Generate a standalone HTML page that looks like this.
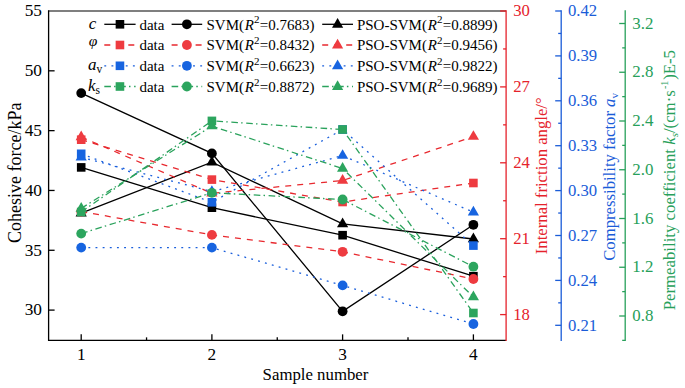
<!DOCTYPE html>
<html><head><meta charset="utf-8"><style>
html,body{margin:0;padding:0;background:#fff;width:685px;height:388px;overflow:hidden;}
svg{display:block;}
text{font-family:"Liberation Serif",serif;}
</style></head><body>
<svg width="685" height="388" viewBox="0 0 685 388">
<rect width="685" height="388" fill="#fff"/>
<polyline points="81.20,167.40 211.90,207.70 342.60,235.20 473.40,276.20" stroke="#000000" stroke-width="1.3" fill="none"/>
<rect x="76.90" y="163.10" width="8.6" height="8.6" fill="#000000"/>
<rect x="207.60" y="203.40" width="8.6" height="8.6" fill="#000000"/>
<rect x="338.30" y="230.90" width="8.6" height="8.6" fill="#000000"/>
<rect x="469.10" y="271.90" width="8.6" height="8.6" fill="#000000"/>
<polyline points="81.20,93.10 211.90,153.40 342.60,311.30 473.40,224.80" stroke="#000000" stroke-width="1.3" fill="none"/>
<circle cx="81.20" cy="93.10" r="4.9" fill="#000000"/>
<circle cx="211.90" cy="153.40" r="4.9" fill="#000000"/>
<circle cx="342.60" cy="311.30" r="4.9" fill="#000000"/>
<circle cx="473.40" cy="224.80" r="4.9" fill="#000000"/>
<polyline points="81.20,213.20 211.90,162.20 342.60,223.90 473.40,239.00" stroke="#000000" stroke-width="1.3" fill="none"/>
<polygon points="81.20,206.73 86.80,216.43 75.60,216.43" fill="#000000"/>
<polygon points="211.90,155.73 217.50,165.43 206.30,165.43" fill="#000000"/>
<polygon points="342.60,217.43 348.20,227.13 337.00,227.13" fill="#000000"/>
<polygon points="473.40,232.53 479.00,242.23 467.80,242.23" fill="#000000"/>
<polyline points="81.20,139.70 211.90,179.60 342.60,202.00 473.40,183.00" stroke="#E8292F" stroke-width="1.3" fill="none" stroke-dasharray="6 6"/>
<rect x="76.90" y="135.40" width="8.6" height="8.6" fill="#EE3B40"/>
<rect x="207.60" y="175.30" width="8.6" height="8.6" fill="#EE3B40"/>
<rect x="338.30" y="197.70" width="8.6" height="8.6" fill="#EE3B40"/>
<rect x="469.10" y="178.70" width="8.6" height="8.6" fill="#EE3B40"/>
<polyline points="81.20,211.50 211.90,234.90 342.60,251.80 473.40,279.00" stroke="#E8292F" stroke-width="1.3" fill="none" stroke-dasharray="6 6"/>
<circle cx="81.20" cy="211.50" r="4.9" fill="#EE3B40"/>
<circle cx="211.90" cy="234.90" r="4.9" fill="#EE3B40"/>
<circle cx="342.60" cy="251.80" r="4.9" fill="#EE3B40"/>
<circle cx="473.40" cy="279.00" r="4.9" fill="#EE3B40"/>
<polyline points="81.20,137.00 211.90,193.30 342.60,180.50 473.40,136.60" stroke="#E8292F" stroke-width="1.3" fill="none" stroke-dasharray="6 6"/>
<polygon points="81.20,130.53 86.80,140.23 75.60,140.23" fill="#EE3B40"/>
<polygon points="211.90,186.83 217.50,196.53 206.30,196.53" fill="#EE3B40"/>
<polygon points="342.60,174.03 348.20,183.73 337.00,183.73" fill="#EE3B40"/>
<polygon points="473.40,130.13 479.00,139.83 467.80,139.83" fill="#EE3B40"/>
<polyline points="81.20,153.80 211.90,202.30 342.60,129.50 473.40,245.60" stroke="#1A5FDC" stroke-width="1.3" fill="none" stroke-dasharray="1.9 5.25"/>
<rect x="76.90" y="149.50" width="8.6" height="8.6" fill="#1764E0"/>
<rect x="207.60" y="198.00" width="8.6" height="8.6" fill="#1764E0"/>
<rect x="338.30" y="125.20" width="8.6" height="8.6" fill="#1764E0"/>
<rect x="469.10" y="241.30" width="8.6" height="8.6" fill="#1764E0"/>
<polyline points="81.20,247.60 211.90,247.60 342.60,285.40 473.40,324.00" stroke="#1A5FDC" stroke-width="1.3" fill="none" stroke-dasharray="1.9 5.25"/>
<circle cx="81.20" cy="247.60" r="4.9" fill="#1764E0"/>
<circle cx="211.90" cy="247.60" r="4.9" fill="#1764E0"/>
<circle cx="342.60" cy="285.40" r="4.9" fill="#1764E0"/>
<circle cx="473.40" cy="324.00" r="4.9" fill="#1764E0"/>
<polyline points="81.20,157.20 211.90,191.60 342.60,155.60 473.40,212.20" stroke="#1A5FDC" stroke-width="1.3" fill="none" stroke-dasharray="1.9 5.25"/>
<polygon points="81.20,150.73 86.80,160.43 75.60,160.43" fill="#1764E0"/>
<polygon points="211.90,185.13 217.50,194.83 206.30,194.83" fill="#1764E0"/>
<polygon points="342.60,149.13 348.20,158.83 337.00,158.83" fill="#1764E0"/>
<polygon points="473.40,205.73 479.00,215.43 467.80,215.43" fill="#1764E0"/>
<polyline points="81.20,212.00 211.90,120.90 342.60,129.50 473.40,313.00" stroke="#2AA25C" stroke-width="1.3" fill="none" stroke-dasharray="6.6 3.2 1.5 3.6"/>
<rect x="76.90" y="207.70" width="8.6" height="8.6" fill="#2CA55E"/>
<rect x="207.60" y="116.60" width="8.6" height="8.6" fill="#2CA55E"/>
<rect x="338.30" y="125.20" width="8.6" height="8.6" fill="#2CA55E"/>
<rect x="469.10" y="308.70" width="8.6" height="8.6" fill="#2CA55E"/>
<polyline points="81.20,233.60 211.90,192.80 342.60,199.50 473.40,266.70" stroke="#2AA25C" stroke-width="1.3" fill="none" stroke-dasharray="6.6 3.2 1.5 3.6"/>
<circle cx="81.20" cy="233.60" r="4.9" fill="#2CA55E"/>
<circle cx="211.90" cy="192.80" r="4.9" fill="#2CA55E"/>
<circle cx="342.60" cy="199.50" r="4.9" fill="#2CA55E"/>
<circle cx="473.40" cy="266.70" r="4.9" fill="#2CA55E"/>
<polyline points="81.20,208.40 211.90,126.10 342.60,168.50 473.40,297.00" stroke="#2AA25C" stroke-width="1.3" fill="none" stroke-dasharray="6.6 3.2 1.5 3.6"/>
<polygon points="81.20,201.93 86.80,211.63 75.60,211.63" fill="#2CA55E"/>
<polygon points="211.90,119.63 217.50,129.33 206.30,129.33" fill="#2CA55E"/>
<polygon points="342.60,162.03 348.20,171.73 337.00,171.73" fill="#2CA55E"/>
<polygon points="473.40,290.53 479.00,300.23 467.80,300.23" fill="#2CA55E"/>
<path d="M48.6,11.0 H506.1" stroke="#555" stroke-width="1.3" fill="none"/>
<path d="M48.6,10.35 V340.35 H506.1" stroke="#000" stroke-width="1.3" fill="none"/>
<text x="42.0" y="16.30" font-size="17.3" text-anchor="end">55</text>
<line x1="48.6" y1="70.82" x2="54.6" y2="70.82" stroke="#000" stroke-width="1.3"/>
<text x="42.0" y="76.12" font-size="17.3" text-anchor="end">50</text>
<line x1="48.6" y1="130.64" x2="54.6" y2="130.64" stroke="#000" stroke-width="1.3"/>
<text x="42.0" y="135.94" font-size="17.3" text-anchor="end">45</text>
<line x1="48.6" y1="190.46" x2="54.6" y2="190.46" stroke="#000" stroke-width="1.3"/>
<text x="42.0" y="195.76" font-size="17.3" text-anchor="end">40</text>
<line x1="48.6" y1="250.28" x2="54.6" y2="250.28" stroke="#000" stroke-width="1.3"/>
<text x="42.0" y="255.58" font-size="17.3" text-anchor="end">35</text>
<line x1="48.6" y1="310.10" x2="54.6" y2="310.10" stroke="#000" stroke-width="1.3"/>
<text x="42.0" y="315.40" font-size="17.3" text-anchor="end">30</text>
<line x1="81.2" y1="340.35" x2="81.2" y2="334.35" stroke="#000" stroke-width="1.3"/>
<text x="81.20" y="360.1" font-size="17.3" text-anchor="middle">1</text>
<line x1="211.9" y1="340.35" x2="211.9" y2="334.35" stroke="#000" stroke-width="1.3"/>
<text x="211.90" y="360.1" font-size="17.3" text-anchor="middle">2</text>
<line x1="342.6" y1="340.35" x2="342.6" y2="334.35" stroke="#000" stroke-width="1.3"/>
<text x="342.60" y="360.1" font-size="17.3" text-anchor="middle">3</text>
<line x1="473.4" y1="340.35" x2="473.4" y2="334.35" stroke="#000" stroke-width="1.3"/>
<text x="473.40" y="360.1" font-size="17.3" text-anchor="middle">4</text>
<line x1="146.55" y1="340.35" x2="146.55" y2="337.35" stroke="#000" stroke-width="1.3"/>
<line x1="277.25" y1="340.35" x2="277.25" y2="337.35" stroke="#000" stroke-width="1.3"/>
<line x1="408.00" y1="340.35" x2="408.00" y2="337.35" stroke="#000" stroke-width="1.3"/>
<line x1="506.1" y1="10.35" x2="506.1" y2="341.0" stroke="#E5222B" stroke-width="1.3"/>
<line x1="506.1" y1="11.00" x2="500.1" y2="11.00" stroke="#E5222B" stroke-width="1.3"/>
<text x="513.2" y="16.10" font-size="16.7" fill="#E5222B">30</text>
<line x1="506.1" y1="48.95" x2="503.1" y2="48.95" stroke="#E5222B" stroke-width="1.3"/>
<line x1="506.1" y1="86.90" x2="500.1" y2="86.90" stroke="#E5222B" stroke-width="1.3"/>
<text x="513.2" y="92.00" font-size="16.7" fill="#E5222B">27</text>
<line x1="506.1" y1="124.85" x2="503.1" y2="124.85" stroke="#E5222B" stroke-width="1.3"/>
<line x1="506.1" y1="162.80" x2="500.1" y2="162.80" stroke="#E5222B" stroke-width="1.3"/>
<text x="513.2" y="167.90" font-size="16.7" fill="#E5222B">24</text>
<line x1="506.1" y1="200.75" x2="503.1" y2="200.75" stroke="#E5222B" stroke-width="1.3"/>
<line x1="506.1" y1="238.70" x2="500.1" y2="238.70" stroke="#E5222B" stroke-width="1.3"/>
<text x="513.2" y="243.80" font-size="16.7" fill="#E5222B">21</text>
<line x1="506.1" y1="276.65" x2="503.1" y2="276.65" stroke="#E5222B" stroke-width="1.3"/>
<line x1="506.1" y1="314.60" x2="500.1" y2="314.60" stroke="#E5222B" stroke-width="1.3"/>
<text x="513.2" y="319.70" font-size="16.7" fill="#E5222B">18</text>
<line x1="561.2" y1="10.35" x2="561.2" y2="341.0" stroke="#1A5CD8" stroke-width="1.3"/>
<line x1="561.2" y1="11.00" x2="555.2" y2="11.00" stroke="#1A5CD8" stroke-width="1.3"/>
<text x="568.0" y="16.30" font-size="16.7" fill="#1A5CD8">0.42</text>
<line x1="561.2" y1="33.45" x2="558.2" y2="33.45" stroke="#1A5CD8" stroke-width="1.3"/>
<line x1="561.2" y1="55.90" x2="555.2" y2="55.90" stroke="#1A5CD8" stroke-width="1.3"/>
<text x="568.0" y="61.20" font-size="16.7" fill="#1A5CD8">0.39</text>
<line x1="561.2" y1="78.35" x2="558.2" y2="78.35" stroke="#1A5CD8" stroke-width="1.3"/>
<line x1="561.2" y1="100.80" x2="555.2" y2="100.80" stroke="#1A5CD8" stroke-width="1.3"/>
<text x="568.0" y="106.10" font-size="16.7" fill="#1A5CD8">0.36</text>
<line x1="561.2" y1="123.25" x2="558.2" y2="123.25" stroke="#1A5CD8" stroke-width="1.3"/>
<line x1="561.2" y1="145.70" x2="555.2" y2="145.70" stroke="#1A5CD8" stroke-width="1.3"/>
<text x="568.0" y="151.00" font-size="16.7" fill="#1A5CD8">0.33</text>
<line x1="561.2" y1="168.15" x2="558.2" y2="168.15" stroke="#1A5CD8" stroke-width="1.3"/>
<line x1="561.2" y1="190.60" x2="555.2" y2="190.60" stroke="#1A5CD8" stroke-width="1.3"/>
<text x="568.0" y="195.90" font-size="16.7" fill="#1A5CD8">0.30</text>
<line x1="561.2" y1="213.05" x2="558.2" y2="213.05" stroke="#1A5CD8" stroke-width="1.3"/>
<line x1="561.2" y1="235.50" x2="555.2" y2="235.50" stroke="#1A5CD8" stroke-width="1.3"/>
<text x="568.0" y="240.80" font-size="16.7" fill="#1A5CD8">0.27</text>
<line x1="561.2" y1="257.95" x2="558.2" y2="257.95" stroke="#1A5CD8" stroke-width="1.3"/>
<line x1="561.2" y1="280.40" x2="555.2" y2="280.40" stroke="#1A5CD8" stroke-width="1.3"/>
<text x="568.0" y="285.70" font-size="16.7" fill="#1A5CD8">0.24</text>
<line x1="561.2" y1="302.85" x2="558.2" y2="302.85" stroke="#1A5CD8" stroke-width="1.3"/>
<line x1="561.2" y1="325.30" x2="555.2" y2="325.30" stroke="#1A5CD8" stroke-width="1.3"/>
<text x="568.0" y="330.60" font-size="16.7" fill="#1A5CD8">0.21</text>
<line x1="625.2" y1="10.35" x2="625.2" y2="341.0" stroke="#27A05A" stroke-width="1.3"/>
<line x1="625.2" y1="23.50" x2="619.2" y2="23.50" stroke="#27A05A" stroke-width="1.3"/>
<text x="632.3" y="28.60" font-size="16.9" fill="#27A05A">3.2</text>
<line x1="625.2" y1="47.88" x2="622.2" y2="47.88" stroke="#27A05A" stroke-width="1.3"/>
<line x1="625.2" y1="72.25" x2="619.2" y2="72.25" stroke="#27A05A" stroke-width="1.3"/>
<text x="632.3" y="77.35" font-size="16.9" fill="#27A05A">2.8</text>
<line x1="625.2" y1="96.62" x2="622.2" y2="96.62" stroke="#27A05A" stroke-width="1.3"/>
<line x1="625.2" y1="121.00" x2="619.2" y2="121.00" stroke="#27A05A" stroke-width="1.3"/>
<text x="632.3" y="126.10" font-size="16.9" fill="#27A05A">2.4</text>
<line x1="625.2" y1="145.38" x2="622.2" y2="145.38" stroke="#27A05A" stroke-width="1.3"/>
<line x1="625.2" y1="169.75" x2="619.2" y2="169.75" stroke="#27A05A" stroke-width="1.3"/>
<text x="632.3" y="174.85" font-size="16.9" fill="#27A05A">2.0</text>
<line x1="625.2" y1="194.12" x2="622.2" y2="194.12" stroke="#27A05A" stroke-width="1.3"/>
<line x1="625.2" y1="218.50" x2="619.2" y2="218.50" stroke="#27A05A" stroke-width="1.3"/>
<text x="632.3" y="223.60" font-size="16.9" fill="#27A05A">1.6</text>
<line x1="625.2" y1="242.88" x2="622.2" y2="242.88" stroke="#27A05A" stroke-width="1.3"/>
<line x1="625.2" y1="267.25" x2="619.2" y2="267.25" stroke="#27A05A" stroke-width="1.3"/>
<text x="632.3" y="272.35" font-size="16.9" fill="#27A05A">1.2</text>
<line x1="625.2" y1="291.62" x2="622.2" y2="291.62" stroke="#27A05A" stroke-width="1.3"/>
<line x1="625.2" y1="316.00" x2="619.2" y2="316.00" stroke="#27A05A" stroke-width="1.3"/>
<text x="632.3" y="321.10" font-size="16.9" fill="#27A05A">0.8</text>
<line x1="625.2" y1="340.38" x2="622.2" y2="340.38" stroke="#27A05A" stroke-width="1.3"/>
<text transform="translate(20.6,172.7) rotate(-90)" font-size="18" text-anchor="middle">Cohesive force/kPa</text>
<text x="262.6" y="379.9" font-size="16.8">Sample number</text>
<text transform="translate(547.0,175.8) rotate(-90)" font-size="16.7" text-anchor="middle" fill="#E5222B">Internal friction angle/°</text>
<text transform="translate(614.5,176.9) rotate(-90)" font-size="16.7" text-anchor="middle" fill="#1A5CD8">Compressibility factor <tspan font-style="italic">a</tspan><tspan font-size="11" dy="3">v</tspan></text>
<text transform="translate(674.5,180.2) rotate(-90)" font-size="16.8" text-anchor="middle" fill="#27A05A">Permeability coefficient <tspan font-style="italic">k</tspan><tspan font-size="11" font-style="italic" dy="3">s</tspan><tspan dy="-3">/(cm·s</tspan><tspan font-size="10" dy="-7" dx="1.2">-1</tspan><tspan dy="7" dx="0.8">)E-5</tspan></text>
<text x="88.0" y="28.30" font-size="17"><tspan font-style="italic" dx="0.8" dy="0.3">c</tspan></text>
<line x1="104.3" y1="24.30" x2="135.6" y2="24.30" stroke="#000000" stroke-width="1.3" fill="none"/>
<rect x="115.65" y="20.00" width="8.6" height="8.6" fill="#000000"/>
<line x1="171.6" y1="24.30" x2="202.2" y2="24.30" stroke="#000000" stroke-width="1.3" fill="none"/>
<circle cx="186.90" cy="24.30" r="4.9" fill="#000000"/>
<line x1="322.2" y1="24.30" x2="353.0" y2="24.30" stroke="#000000" stroke-width="1.3" fill="none"/>
<polygon points="337.60,18.03 343.20,27.73 332.00,27.73" fill="#000000"/>
<text x="139.4" y="29.50" font-size="15.0">data</text>
<text x="206.5" y="29.50" font-size="15.0">SVM(<tspan font-style="italic" dx="0.8">R</tspan><tspan font-size="11" dy="-6.2">2</tspan><tspan dy="6.2" dx="0.3">=0.7683)</tspan></text>
<text x="356.9" y="29.50" font-size="15.0">PSO-SVM(<tspan font-style="italic" dx="0.8">R</tspan><tspan font-size="11" dy="-6.2">2</tspan><tspan dy="6.2" dx="0.3">=0.8899)</tspan></text>
<text x="88.0" y="49.00" font-size="17"><tspan font-style="italic" font-size="15.5" dy="-2.8" dx="0.8">φ</tspan></text>
<line x1="104.3" y1="45.00" x2="135.6" y2="45.00" stroke="#E8292F" stroke-width="1.3" fill="none" stroke-dasharray="6 6"/>
<rect x="115.65" y="40.70" width="8.6" height="8.6" fill="#EE3B40"/>
<line x1="171.6" y1="45.00" x2="202.2" y2="45.00" stroke="#E8292F" stroke-width="1.3" fill="none" stroke-dasharray="6 6"/>
<circle cx="186.90" cy="45.00" r="4.9" fill="#EE3B40"/>
<line x1="322.2" y1="45.00" x2="353.0" y2="45.00" stroke="#E8292F" stroke-width="1.3" fill="none" stroke-dasharray="6 6"/>
<polygon points="337.60,38.73 343.20,48.43 332.00,48.43" fill="#EE3B40"/>
<text x="139.4" y="50.20" font-size="15.0">data</text>
<text x="206.5" y="50.20" font-size="15.0">SVM(<tspan font-style="italic" dx="0.8">R</tspan><tspan font-size="11" dy="-6.2">2</tspan><tspan dy="6.2" dx="0.3">=0.8432)</tspan></text>
<text x="356.9" y="50.20" font-size="15.0">PSO-SVM(<tspan font-style="italic" dx="0.8">R</tspan><tspan font-size="11" dy="-6.2">2</tspan><tspan dy="6.2" dx="0.3">=0.9456)</tspan></text>
<text x="88.0" y="69.80" font-size="17"><tspan font-style="italic">a</tspan><tspan font-size="11.5" dy="3.6">v</tspan></text>
<line x1="104.3" y1="65.80" x2="135.6" y2="65.80" stroke="#1A5FDC" stroke-width="1.3" fill="none" stroke-dasharray="1.9 5.25"/>
<rect x="115.65" y="61.50" width="8.6" height="8.6" fill="#1764E0"/>
<line x1="171.6" y1="65.80" x2="202.2" y2="65.80" stroke="#1A5FDC" stroke-width="1.3" fill="none" stroke-dasharray="1.9 5.25"/>
<circle cx="186.90" cy="65.80" r="4.9" fill="#1764E0"/>
<line x1="322.2" y1="65.80" x2="353.0" y2="65.80" stroke="#1A5FDC" stroke-width="1.3" fill="none" stroke-dasharray="1.9 5.25"/>
<polygon points="337.60,59.53 343.20,69.23 332.00,69.23" fill="#1764E0"/>
<text x="139.4" y="71.00" font-size="15.0">data</text>
<text x="206.5" y="71.00" font-size="15.0">SVM(<tspan font-style="italic" dx="0.8">R</tspan><tspan font-size="11" dy="-6.2">2</tspan><tspan dy="6.2" dx="0.3">=0.6623)</tspan></text>
<text x="356.9" y="71.00" font-size="15.0">PSO-SVM(<tspan font-style="italic" dx="0.8">R</tspan><tspan font-size="11" dy="-6.2">2</tspan><tspan dy="6.2" dx="0.3">=0.9822)</tspan></text>
<text x="88.0" y="90.50" font-size="17"><tspan font-style="italic">k</tspan><tspan font-size="11.5" dy="3.6">s</tspan></text>
<line x1="104.3" y1="86.50" x2="135.6" y2="86.50" stroke="#2AA25C" stroke-width="1.3" fill="none" stroke-dasharray="6.6 3.2 1.5 3.6"/>
<rect x="115.65" y="82.20" width="8.6" height="8.6" fill="#2CA55E"/>
<line x1="171.6" y1="86.50" x2="202.2" y2="86.50" stroke="#2AA25C" stroke-width="1.3" fill="none" stroke-dasharray="6.6 3.2 1.5 3.6"/>
<circle cx="186.90" cy="86.50" r="4.9" fill="#2CA55E"/>
<line x1="322.2" y1="86.50" x2="353.0" y2="86.50" stroke="#2AA25C" stroke-width="1.3" fill="none" stroke-dasharray="6.6 3.2 1.5 3.6"/>
<polygon points="337.60,80.23 343.20,89.93 332.00,89.93" fill="#2CA55E"/>
<text x="139.4" y="91.70" font-size="15.0">data</text>
<text x="206.5" y="91.70" font-size="15.0">SVM(<tspan font-style="italic" dx="0.8">R</tspan><tspan font-size="11" dy="-6.2">2</tspan><tspan dy="6.2" dx="0.3">=0.8872)</tspan></text>
<text x="356.9" y="91.70" font-size="15.0">PSO-SVM(<tspan font-style="italic" dx="0.8">R</tspan><tspan font-size="11" dy="-6.2">2</tspan><tspan dy="6.2" dx="0.3">=0.9689)</tspan></text>
</svg>
</body></html>
